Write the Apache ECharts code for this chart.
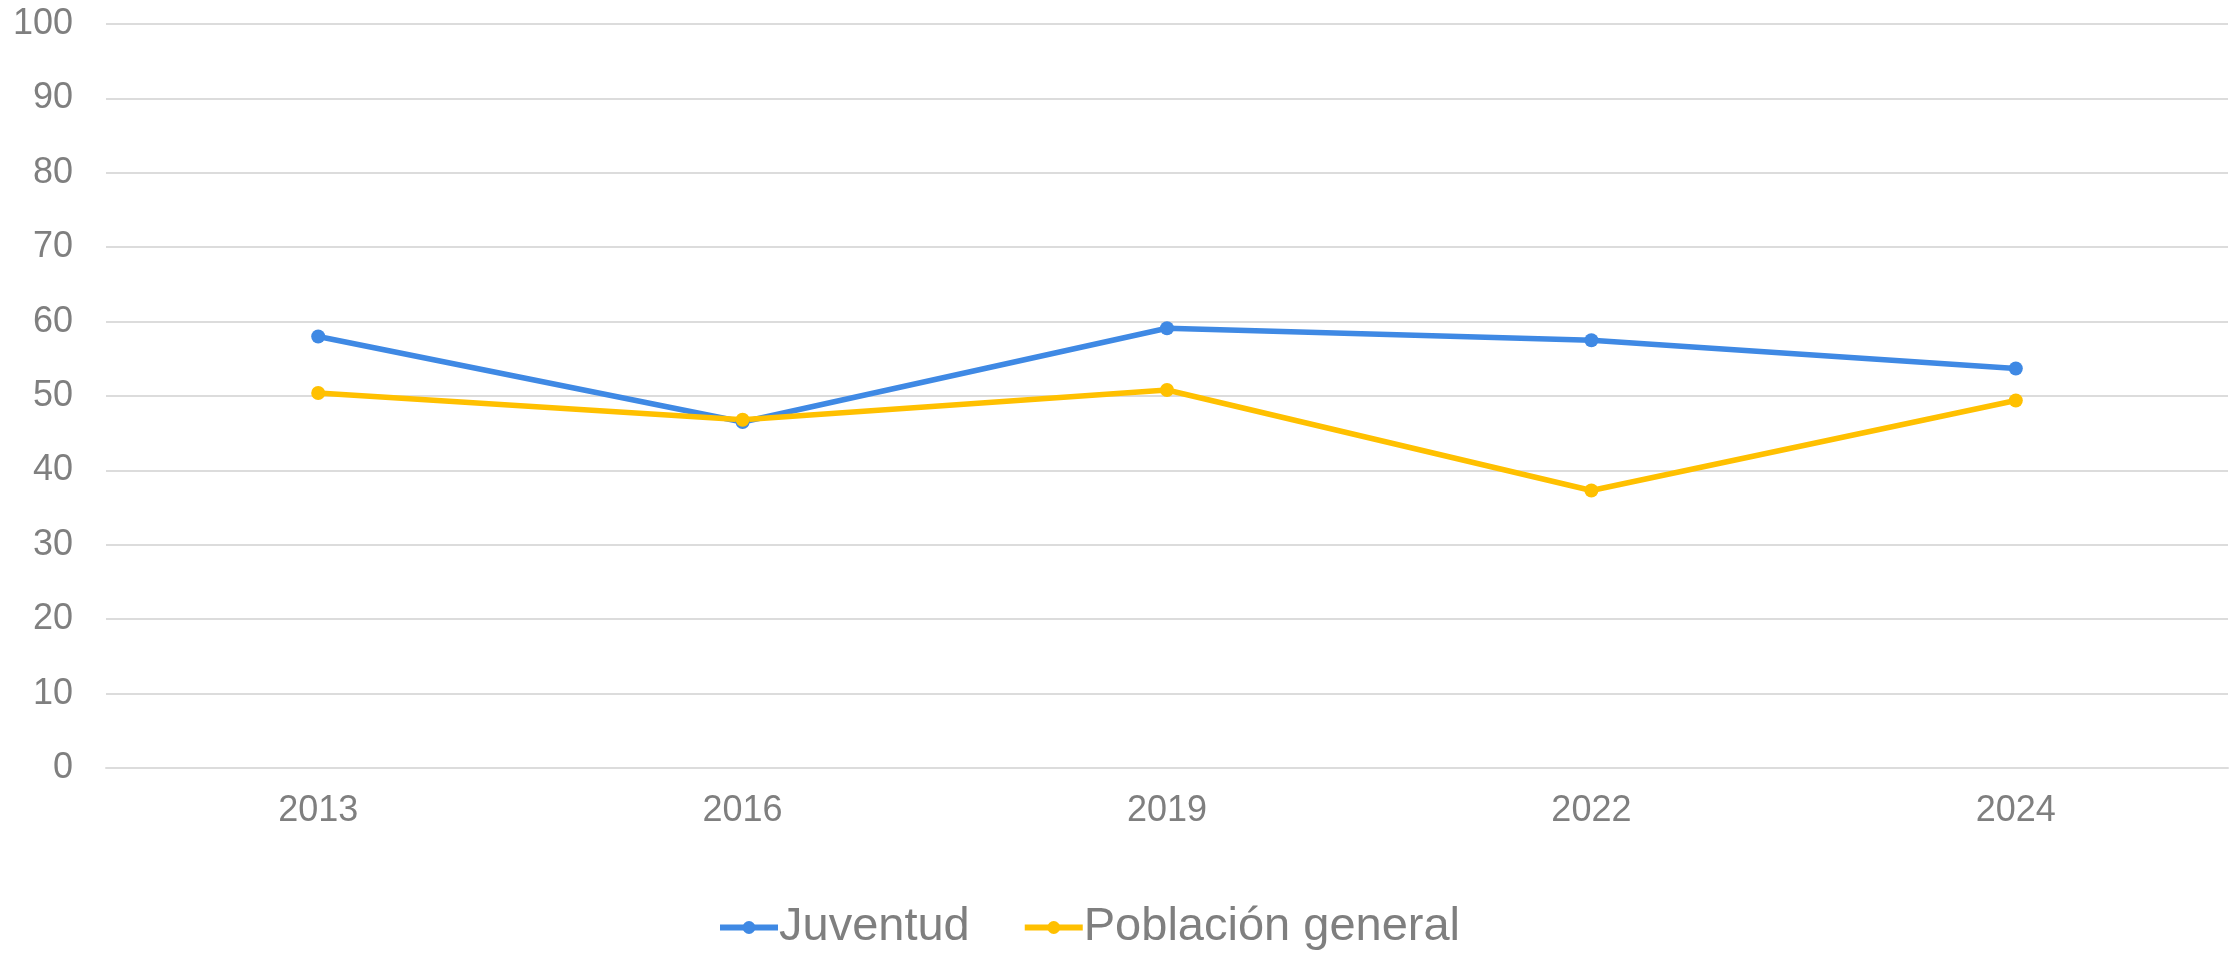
<!DOCTYPE html>
<html>
<head>
<meta charset="utf-8">
<script src="https://cdn.jsdelivr.net/npm/echarts@6/dist/echarts.min.js"></script>
<style>
    html, body { margin: 0; padding: 0; background: #ffffff; }
    #lineChart { width: 2234px; height: 953px; }
</style>
</head>
<body>
<div id="lineChart"></div>
<script>
let years = ['2013', '2016', '2019', '2022', '2024'];
let juventud = [58.0, 46.5, 59.1, 57.5, 53.7];
let poblacionGeneral = [50.4, 46.8, 50.8, 37.3, 49.4];

let textColor = '#7f7f7f';
let gridColor = '#dcdcdc';
let fontFamily = '"Liberation Sans", Arial, sans-serif';

let lineChart = echarts.init(document.getElementById('lineChart'));

function getSerie(name, data, color) {
    return {
        name: name,
        type: 'line',
        data: data,
        symbol: 'circle',
        symbolSize: 14,
        color: color,
        lineStyle: {
            width: 5.5,
            color: color
        },
        itemStyle: {
            color: color
        },
        emphasis: {
            disabled: true
        }
    };
}

let lineChartOption = {
    backgroundColor: '#ffffff',
    animation: false,
    textStyle: {
        fontFamily: fontFamily
    },
    grid: {
        left: 106,
        right: 6,
        top: 24,
        bottom: 185,
        containLabel: false
    },
    legend: {
        left: 717,
        top: 904,
        padding: 0,
        itemWidth: 58,
        itemHeight: 16,
        itemGap: 52,
        lineStyle: {
            width: 6
        },
        textStyle: {
            fontSize: 47,
            color: textColor,
            fontFamily: fontFamily,
            lineHeight: 47,
            padding: [0, 0, 0, -4]
        },
        data: ['Juventud', 'Población general']
    },
    xAxis: {
        type: 'category',
        data: years,
        boundaryGap: true,
        axisLine: {
            show: true,
            lineStyle: {
                color: gridColor,
                width: 2
            }
        },
        axisTick: {
            show: false
        },
        axisLabel: {
            fontSize: 36,
            color: textColor,
            margin: 25
        },
        splitLine: {
            show: false
        }
    },
    yAxis: {
        type: 'value',
        min: 0,
        max: 100,
        interval: 10,
        axisLine: {
            show: false
        },
        axisTick: {
            show: false
        },
        axisLabel: {
            fontSize: 36,
            color: textColor,
            margin: 33
        },
        splitLine: {
            show: true,
            lineStyle: {
                color: gridColor,
                width: 2
            }
        }
    },
    series: [
        getSerie('Juventud', juventud, '#3f89e4'),
        getSerie('Población general', poblacionGeneral, '#ffc000')
    ]
};
lineChart.setOption(lineChartOption);
</script>
</body>
</html>
